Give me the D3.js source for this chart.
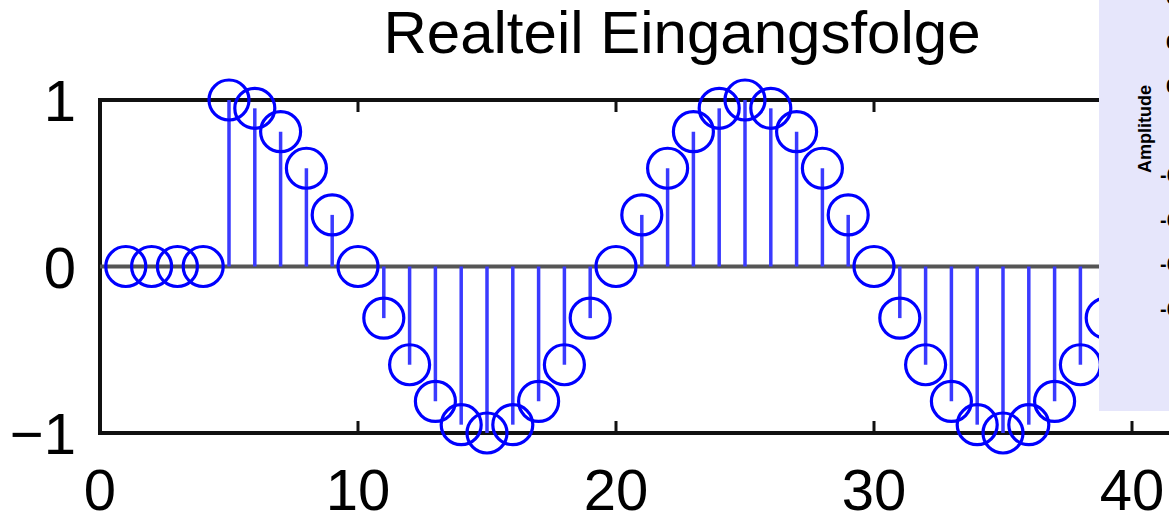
<!DOCTYPE html>
<html>
<head>
<meta charset="utf-8">
<script src="https://cdn.jsdelivr.net/npm/d3@7"></script>
<style>
  body { margin: 0; background: #fff; }
  svg { display: block; font-family: "Liberation Sans", Arial, sans-serif; }
</style>
</head>
<body>
<script>
// Realteil der Eingangsfolge (Stem-Plot)
const n = [1,2,3,4,5,6,7,8,9,10,11,12,13,14,15,16,17,18,19,20,
           21,22,23,24,25,26,27,28,29,30,31,32,33,34,35,36,37,38,39,40];
const re = [0,0,0,0,1,0.95,0.81,0.59,0.31,0,-0.31,-0.59,-0.81,-0.95,-1,-0.95,-0.81,-0.59,-0.31,0,
            0.31,0.59,0.81,0.95,1,0.95,0.81,0.59,0.31,0,-0.31,-0.59,-0.81,-0.95,-1,-0.95,-0.81,-0.59,-0.31,0];
const xTicks = [0,10,20,30,40];
const yTicks = [-1,0,1];
// Achsenbeschriftung des überlappenden Nachbarplots (rechts, abgeschnitten)
const insetTicks = [0.6,0.4,0.2,0,-0.2,-0.4,-0.6,-0.8];

const W = 1169, H = 518;
const svg = d3.select("body").append("svg").attr("width", W).attr("height", H);

const x = d3.scaleLinear().domain([0, 45]).range([100, 1261]);
const y = d3.scaleLinear().domain([-1, 1]).range([433, 100]);

// Achsenrahmen
const g = svg.append("g");
g.append("line").attr("x1", x(0)).attr("x2", x(45)).attr("y1", y(1)).attr("y2", y(1))
  .attr("stroke", "#111").attr("stroke-width", 4);
g.append("line").attr("x1", x(0)).attr("x2", x(45)).attr("y1", y(-1)).attr("y2", y(-1))
  .attr("stroke", "#111").attr("stroke-width", 4);
g.append("line").attr("x1", x(0)).attr("x2", x(0)).attr("y1", y(1) - 2).attr("y2", y(-1) + 2)
  .attr("stroke", "#111").attr("stroke-width", 4);

// Ticks innen, unten und oben
xTicks.slice(1).forEach(t => {
  g.append("line").attr("x1", x(t)).attr("x2", x(t)).attr("y1", y(-1)).attr("y2", y(-1) - 12)
    .attr("stroke", "#111").attr("stroke-width", 3);
  g.append("line").attr("x1", x(t)).attr("x2", x(t)).attr("y1", y(1)).attr("y2", y(1) + 12)
    .attr("stroke", "#111").attr("stroke-width", 3);
});

// Tick-Labels
g.selectAll(".xl").data(xTicks).enter().append("text")
  .attr("x", d => x(d)).attr("y", 510)
  .attr("text-anchor", "middle").style("font-size", "58px").attr("fill", "#000")
  .text(d => d);
g.selectAll(".yl").data(yTicks).enter().append("text")
  .attr("x", 76).attr("y", d => y(d) + 21)
  .attr("text-anchor", "end").style("font-size", "58px").attr("fill", "#000")
  .text(d => d < 0 ? "\u2212" + Math.abs(d) : d);

// Titel
svg.append("text").attr("x", 682).attr("y", 53)
  .attr("text-anchor", "middle").style("font-size", "60px").attr("fill", "#000")
  .text("Realteil Eingangsfolge");

// Nulllinie (Baseline)
g.append("line").attr("x1", x(0)).attr("x2", x(45)).attr("y1", y(0)).attr("y2", y(0))
  .attr("stroke", "#555").attr("stroke-width", 4);

// Stems
const data = n.map((d, i) => ({n: d, v: re[i]}));
g.selectAll(".stem").data(data.filter(d => d.v !== 0)).enter().append("line")
  .attr("x1", d => x(d.n)).attr("x2", d => x(d.n))
  .attr("y1", y(0)).attr("y2", d => y(d.v))
  .attr("stroke", "#3a3aff").attr("stroke-width", 3.5);

// Marker
g.selectAll(".mk").data(data).enter().append("circle")
  .attr("cx", d => x(d.n)).attr("cy", d => y(d.v)).attr("r", 20)
  .attr("fill", "none").attr("stroke", "#0000ff").attr("stroke-width", 3.2);

// überlappender Nachbarplot
const inset = svg.append("g");
inset.append("rect").attr("x", 1099).attr("y", 0).attr("width", 80).attr("height", 411)
  .attr("fill", "#e6e6fb");
inset.append("text")
  .attr("transform", "translate(1151,129) rotate(-90)")
  .attr("text-anchor", "middle").style("font-size", "18px").style("font-weight", "bold")
  .attr("fill", "#000").text("Amplitude");
inset.selectAll(".il").data(insetTicks).enter().append("text")
  .attr("x", d => d < 0 ? 1160 : (d === 0 ? 1190 : 1166))
  .attr("y", (d, i) => -4 + i * 44.5 + 8)
  .style("font-size", "20px").style("font-weight", "bold").attr("fill", "#000")
  .text(d => d);
</script>
</body>
</html>
